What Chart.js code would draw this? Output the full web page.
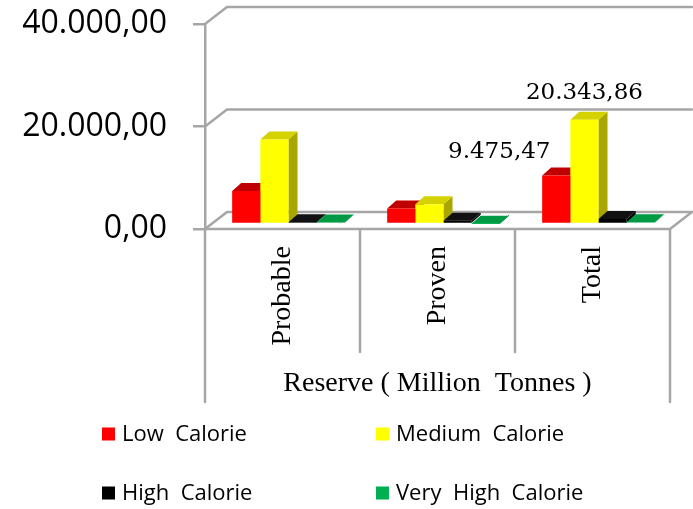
<!DOCTYPE html>
<html>
<head>
<meta charset="utf-8">
<script src="https://cdn.jsdelivr.net/npm/chart.js@4.4.1/dist/chart.umd.min.js"></script>
<style>
  html, body { margin: 0; padding: 0; background: #fff; }
  #wrap { width: 693px; height: 509px; position: relative; }
</style>
</head>
<body>
<div id="wrap"><canvas id="c"></canvas></div>
<script>
// Coal reserves by calorie class (million tonnes)
const categories = ['Probable', 'Proven', 'Total'];
const seriesNames = ['Low  Calorie', 'Medium  Calorie', 'High  Calorie', 'Very  High  Calorie'];
const lowCalorie = [6440, 3035, 9475.47];
const mediumCalorie = [16500, 3844, 20343.86];
const highCalorie = [350, 650, 1000];
const veryHighCalorie = [280, 40, 320];
const yTicks = [0, 20000, 40000];
// [series index, category index] of the bars that carry a value label
const labelledBars = [[0, 2], [1, 2]];

// ---- styling -------------------------------------------------------------
const frontColors = ['#ff0000', '#ffff00', '#000000', '#00b050'];
const topColors   = ['#c00000', '#d4d200', '#111111', '#009a44'];
const sideColors  = ['#b00000', '#aaa600', '#000000', '#00843c'];
const frameColor = '#a6a6a6';
const frameWidth = 2.5;
const WALL = { dx: 22, dy: -17 };      // depth of the floor / side wall
const BARPLANE = { dx: 6, dy: -5 };    // bars stand a little behind the front edge
const BARDEPTH = { dx: 9, dy: -8 };    // thickness of each column
const labelOffsets = { '0,2': { dx: -57, dy: -23 }, '1,2': { dx: 0, dy: -27 } };

function fmt(v) {
  const parts = Number(v).toFixed(2).split('.');
  return parts[0].replace(/\B(?=(\d{3})+(?!\d))/g, '.') + ',' + parts[1];
}

const allSeries = [lowCalorie, mediumCalorie, highCalorie, veryHighCalorie];

const frame3d = {
  id: 'frame3d',
  beforeDatasetsDraw(chart) {
    const { ctx, chartArea: a, scales: { x, y } } = chart;
    ctx.save();
    ctx.strokeStyle = frameColor;
    ctx.lineWidth = frameWidth;
    ctx.lineCap = 'round';
    ctx.lineJoin = 'round';
    // side wall diagonals + back wall gridlines
    yTicks.forEach(v => {
      const py = y.getPixelForValue(v);
      ctx.beginPath();
      ctx.moveTo(a.left, py);
      ctx.lineTo(a.left + WALL.dx, py + WALL.dy);
      ctx.lineTo(a.right + WALL.dx, py + WALL.dy);
      ctx.stroke();
    });
    // floor front edge and right edge
    const y0 = y.getPixelForValue(0);
    ctx.beginPath();
    ctx.moveTo(a.left, y0);
    ctx.lineTo(a.right, y0);
    ctx.lineTo(a.right + WALL.dx, y0 + WALL.dy);
    ctx.stroke();
    // category separators below the floor
    const n = categories.length;
    for (let i = 0; i <= n; i++) {
      let px;
      if (i === 0) px = a.left;
      else if (i === n) px = a.right;
      else px = (x.getPixelForValue(i - 1) + x.getPixelForValue(i)) / 2;
      const outer = (i === 0 || i === n);
      ctx.beginPath();
      ctx.moveTo(px, y0);
      ctx.lineTo(px, outer ? 402 : 352);
      ctx.stroke();
    }
    ctx.restore();

    // column sides and tops
    ctx.save();
    ctx.translate(BARPLANE.dx, BARPLANE.dy);
    for (let c = 0; c < n; c++) {
      for (let s = 0; s < allSeries.length; s++) {
        const el = chart.getDatasetMeta(s).data[c];
        const p = el.getProps(['x', 'y', 'base', 'width'], true);
        const x0 = p.x - p.width / 2, x1 = p.x + p.width / 2;
        ctx.fillStyle = sideColors[s];
        ctx.beginPath();
        ctx.moveTo(x1, p.y);
        ctx.lineTo(x1 + BARDEPTH.dx, p.y + BARDEPTH.dy);
        ctx.lineTo(x1 + BARDEPTH.dx, p.base + BARDEPTH.dy);
        ctx.lineTo(x1, p.base);
        ctx.closePath();
        ctx.fill();
        ctx.fillStyle = topColors[s];
        ctx.beginPath();
        ctx.moveTo(x0, p.y);
        ctx.lineTo(x1, p.y);
        ctx.lineTo(x1 + BARDEPTH.dx, p.y + BARDEPTH.dy);
        ctx.lineTo(x0 + BARDEPTH.dx, p.y + BARDEPTH.dy);
        ctx.closePath();
        ctx.fill();
      }
    }
    // front faces are drawn by Chart.js in the same shifted plane (restored below)
  },
  afterDatasetsDraw(chart) {
    const { ctx } = chart;
    ctx.restore();
    // value labels
    ctx.save();
    ctx.fillStyle = '#000';
    ctx.font = '23px "DejaVu Serif"';
    ctx.textAlign = 'center';
    ctx.textBaseline = 'middle';
    labelledBars.forEach(([s, c]) => {
      const el = chart.getDatasetMeta(s).data[c];
      const p = el.getProps(['x', 'y'], true);
      const off = labelOffsets[s + ',' + c] || { dx: 0, dy: -25 };
      ctx.fillText(fmt(allSeries[s][c]), p.x + BARPLANE.dx + off.dx, p.y + BARPLANE.dy + off.dy);
    });
    ctx.restore();
  },
  afterDraw(chart) {
    // two-column legend
    const { ctx } = chart;
    const colX = [102, 376];
    const rowY = [434, 493];
    ctx.save();
    ctx.font = '22px "Open Sans"';
    ctx.textBaseline = 'middle';
    ctx.textAlign = 'left';
    seriesNames.forEach((name, i) => {
      const bx = colX[i % 2], by = rowY[Math.floor(i / 2)];
      ctx.fillStyle = frontColors[i];
      ctx.fillRect(bx, by - 6.5, 13, 13);
      ctx.fillStyle = '#000';
      ctx.fillText(name, bx + 20, by + 1);
    });
    ctx.restore();
  }
};

new Chart(document.getElementById('c'), {
  type: 'bar',
  data: {
    labels: categories,
    datasets: allSeries.map((vals, i) => ({
      label: seriesNames[i],
      data: vals,
      backgroundColor: frontColors[i],
      borderWidth: 0,
      categoryPercentage: 0.727,
      barPercentage: 1,
      clip: false
    }))
  },
  options: {
    responsive: true,
    maintainAspectRatio: false,
    animation: false,
    events: [],
    layout: { padding: { left: 0, right: 23, top: 24, bottom: 0 } },
    plugins: { legend: { display: false }, tooltip: { enabled: false } },
    scales: {
      x: {
        grid: { display: false, drawTicks: false },
        border: { display: false },
        ticks: {
          minRotation: 90, maxRotation: 90, padding: 17, color: '#000',
          font: { family: 'Liberation Serif', size: 28 }
        },
        title: {
          display: true, text: 'Reserve ( Million  Tonnes )', color: '#000',
          font: { family: 'Liberation Serif', size: 28 },
          padding: { top: 0, bottom: 109 }
        },
        afterFit(s) { s.height = 280; }
      },
      y: {
        min: 0, max: 40000,
        afterBuildTicks(s) { s.ticks = yTicks.map(v => ({ value: v })); },
        grid: { drawOnChartArea: false, drawTicks: true, tickLength: 12, color: frameColor, lineWidth: frameWidth },
        border: { display: true, color: frameColor, width: frameWidth },
        ticks: {
          padding: 26, color: '#000',
          font: { family: 'Open Sans', size: 32 },
          callback: v => fmt(v)
        },
        afterFit(s) { s.width = 205; s.paddingTop = 0; s.paddingBottom = 0; }
      }
    }
  },
  plugins: [frame3d]
});
</script>
</body>
</html>
